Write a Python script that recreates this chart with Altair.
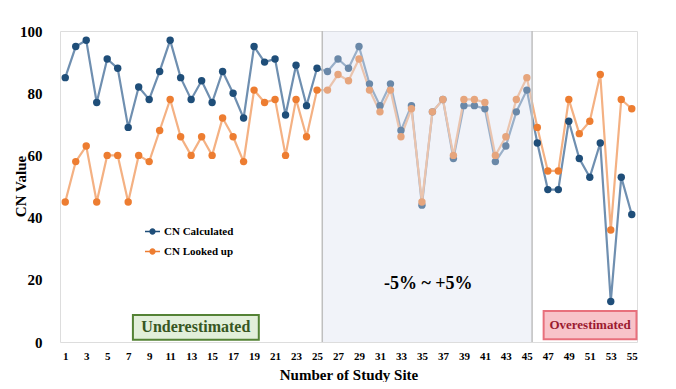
import altair as alt
import pandas as pd

sites = list(range(1, 56))
cn_calculated = [85, 95, 97, 77, 91, 88, 69, 82, 78, 87,
                 97, 85, 78, 84, 77, 87, 80, 72, 95, 90,
                 91, 73, 89, 76, 88, 87, 91, 88, 95, 83,
                 76, 83, 68, 76, 44, 74, 78, 59, 76, 76,
                 75, 58, 63, 74, 81, 64, 49, 49, 71, 59,
                 53, 64, 13, 53, 41]
cn_looked_up = [45, 58, 63, 45, 60, 60, 45, 60, 58, 68,
                78, 66, 60, 66, 60, 72, 66, 58, 81, 77,
                78, 60, 78, 66, 81, 81, 86, 84, 91, 81,
                74, 81, 66, 75, 45, 74, 78, 60, 78, 78,
                77, 60, 66, 78, 85, 69, 55, 55, 78, 67,
                71, 86, 36, 78, 75]
series_names = ["CN Calculated", "CN Looked up"]
tick_values = list(range(1, 56, 2))

rows = []
for s, a, b in zip(sites, cn_calculated, cn_looked_up):
    rows.append({"site": s, "value": a, "series": series_names[0]})
    rows.append({"site": s, "value": b, "series": series_names[1]})
df = pd.DataFrame(rows)

FONT = "Liberation Serif"
xdom = [0.5, 55.5]
xscale = alt.Scale(domain=xdom, nice=False, zero=False)
yscale = alt.Scale(domain=[0, 100], nice=False)

color_pts = alt.Scale(domain=series_names, range=["#1F4E79", "#ED7D31"])
color_lines = alt.Scale(domain=series_names, range=["#6F8FB0", "#F4B183"])

x_axis = alt.Axis(values=tick_values, title="Number of Study Site",
                  labelFont=FONT, labelFontWeight="bold", labelFontSize=11,
                  labelColor="#000", titleFont=FONT, titleFontWeight="bold",
                  titleFontSize=15, titleColor="#000", domain=False,
                  ticks=False, grid=False, labelPadding=8, titlePadding=6,
                  labelFlush=False, labelOverlap=False, labelBound=False)
y_axis = alt.Axis(values=[0, 20, 40, 60, 80, 100], title="CN  Value",
                  labelFont=FONT, labelFontWeight="bold", labelFontSize=15,
                  labelColor="#000", titleFont=FONT, titleFontWeight="bold",
                  titleFontSize=15, titleColor="#000", domain=False,
                  ticks=False, grid=False, labelPadding=18,
                  titleX=-32, titleY=155, titleAlign="center",
                  labelOverlap=False)

lines = alt.Chart(df).mark_line(strokeWidth=2.2).encode(
    x=alt.X("site:Q", scale=xscale, axis=x_axis),
    y=alt.Y("value:Q", scale=yscale, axis=y_axis),
    color=alt.Color("series:N", scale=color_lines, legend=None),
    detail="series:N",
)
legend_symbol = ("M-1,-0.09L-0.4,-0.09L-0.4,0.09L-1,0.09Z "
                 "M0.4,-0.09L1,-0.09L1,0.09L0.4,0.09Z "
                 "M-0.42,0A0.42,0.42,0,1,1,0.42,0A0.42,0.42,0,1,1,-0.42,0Z")
points = alt.Chart(df).mark_circle(size=55, opacity=1).encode(
    x=alt.X("site:Q", scale=xscale, axis=x_axis),
    y=alt.Y("value:Q", scale=yscale, axis=y_axis),
    color=alt.Color("series:N", scale=color_pts,
                    legend=alt.Legend(title=None, orient="none", legendX=84, legendY=192,
                                      symbolType=legend_symbol, symbolSize=225,
                                      symbolOpacity=1,
                                      labelFont=FONT, labelFontWeight="bold",
                                      labelFontSize=11, labelColor="#000",
                                      rowPadding=6, labelOffset=3)),
)
data_layer = alt.layer(lines, points).resolve_scale(color="independent")

# shaded -5% ~ +5% band
band_start = [25.5]
band_end = [45.5]
band = alt.Chart(pd.DataFrame({"x": band_start, "x2": band_end})).mark_rect(
    fill="#DDE2EF", opacity=0.4).encode(
    x=alt.X("x:Q", scale=xscale, axis=x_axis), x2="x2:Q",
    y=alt.value(0), y2=alt.value(311))
vlines = alt.Chart(pd.DataFrame({"x": band_start + band_end})).mark_rule(
    color="#BFBFBF", strokeWidth=1.5).encode(
    x=alt.X("x:Q", scale=xscale, axis=x_axis), y=alt.value(0), y2=alt.value(311))

band_label = alt.Chart(pd.DataFrame({"x": [35.6], "y": [18.5], "t": ["-5% ~ +5%"]})).mark_text(
    font=FONT, fontWeight="bold", fontSize=18, color="#000").encode(
    x=alt.X("x:Q", scale=xscale, axis=x_axis),
    y=alt.Y("y:Q", scale=yscale, axis=y_axis), text="t:N")

# annotation boxes
box_names = ["Underestimated", "Overestimated"]
box_x = [7.45, 46.6]
box_x2 = [19.45, 55.45]
box_y = [8.7, 10.0]
box_y2 = [0.7, 0.9]
box_fill = ["#E2EFDA", "#F8C3C9"]
box_stroke = ["#548235", "#E8707C"]
box_text_color = ["#375623", "#9B1B30"]
box_font = [16, 13]
boxes = []
for i in range(2):
    bdf = pd.DataFrame({"x": [box_x[i]], "x2": [box_x2[i]], "y": [box_y[i]], "y2": [box_y2[i]],
                        "xm": [(box_x[i] + box_x2[i]) / 2], "ym": [(box_y[i] + box_y2[i]) / 2],
                        "t": [box_names[i]]})
    boxes.append(alt.Chart(bdf).mark_rect(fill=box_fill[i], stroke=box_stroke[i],
                                          strokeWidth=2).encode(
        x=alt.X("x:Q", scale=xscale, axis=x_axis), x2="x2:Q",
        y=alt.Y("y:Q", scale=yscale, axis=y_axis), y2="y2:Q"))
    boxes.append(alt.Chart(bdf).mark_text(font=FONT, fontWeight="bold", fontSize=box_font[i],
                                          color=box_text_color[i]).encode(
        x=alt.X("xm:Q", scale=xscale, axis=x_axis),
        y=alt.Y("ym:Q", scale=yscale, axis=y_axis), text="t:N"))

chart = alt.layer(data_layer, band, vlines, band_label, *boxes).properties(
    width=577, height=311,
    autosize=alt.AutoSizeParams(type="none"),
    padding={"left": 52, "top": 23, "right": 30, "bottom": 40},
).configure_view(stroke="#BFBFBF", strokeWidth=2.5).configure(
    background="white").configure_axis(labelOverlap=False)

chart.save("out.html", embed_options={"renderer": "svg", "actions": False})
